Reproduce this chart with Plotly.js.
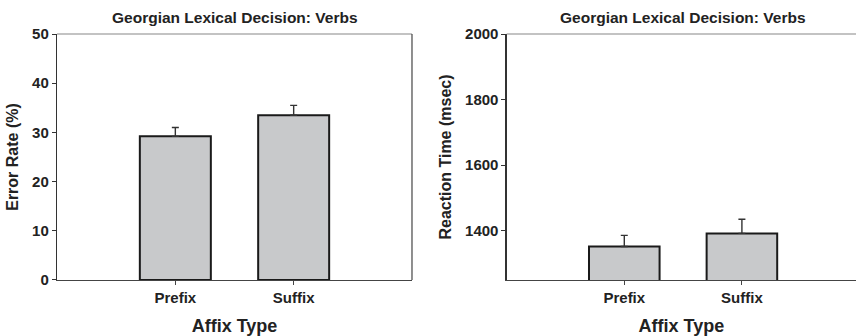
<!DOCTYPE html>
<html>
<head>
<meta charset="utf-8">
<script src="https://cdn.plot.ly/plotly-3.0.1.min.js"></script>
<style>
  html, body { margin: 0; padding: 0; background: #fff; overflow: hidden; }
  #chart { width: 856px; height: 336px; }
</style>
</head>
<body>
<div id="chart"></div>
<script>
// Georgian lexical decision (verbs): error rate and reaction time by affix type
const categories = ['Prefix', 'Suffix'];
const errorRate = [29.2, 33.5];       // %
const errorRateSE = [1.8, 2.0];
const reactionTime = [1352, 1392];    // msec
const reactionTimeSE = [34, 43];

const panelTitle = 'Georgian Lexical Decision: Verbs';
const xTitle = 'Affix Type';
const yTitleLeft = 'Error Rate (%)';
const yTitleRight = 'Reaction Time (msec)';
const errorTicks = [0, 10, 20, 30, 40, 50];
const rtTicks = [1400, 1600, 1800, 2000];

const FONT = 'Liberation Sans, Arial, Helvetica, sans-serif';
const INK = '#222';

function barTrace(y, se, xa, ya) {
  return {
    type: 'bar',
    x: categories,
    y: y,
    xaxis: xa,
    yaxis: ya,
    width: 0.6,
    marker: { color: '#c8c9cb', line: { color: '#1a1a1a', width: 2 } },
    error_y: {
      type: 'data', array: se, symmetric: false, arrayminus: [0, 0],
      color: '#333', thickness: 1.4, width: 3.5
    },
    hoverinfo: 'x+y',
    showlegend: false
  };
}

const tickFont = { family: FONT, size: 15, color: INK, weight: 'bold' };
const titleFont = { family: FONT, size: 18, color: INK, weight: 'bold' };
const yTitleFont = { family: FONT, size: 16, color: INK, weight: 'bold' };
const panelFont = { family: FONT, size: 15.5, color: INK, weight: 'bold' };

function xAxis(domain, range, anchor) {
  return {
    domain: domain, range: range, anchor: anchor,
    type: 'category', showline: true, linecolor: '#444', linewidth: 1.2,
    ticks: 'outside', ticklen: 4, tickcolor: '#444', tickwidth: 1,
    tickfont: tickFont, showgrid: false, zeroline: false, fixedrange: true,
    title: { text: xTitle, font: titleFont, standoff: 16 }
  };
}

function yAxis(range, tickvals, anchor, title) {
  return {
    domain: [0.1667, 0.8988], range: range, anchor: anchor,
    tickvals: tickvals, showline: true, linecolor: '#333', linewidth: 1.2,
    ticks: 'outside', ticklen: 4, tickcolor: '#333', tickwidth: 1,
    tickfont: tickFont, showgrid: false, zeroline: false, fixedrange: true,
    title: { text: title, font: yTitleFont, standoff: 9 }
  };
}

const data = [
  barTrace(errorRate, errorRateSE, 'x', 'y'),
  barTrace(reactionTime, reactionTimeSE, 'x2', 'y2')
];

const layout = {
  width: 856, height: 336,
  margin: { l: 0, r: 0, t: 0, b: 0 },
  paper_bgcolor: '#fff', plot_bgcolor: '#fff',
  font: { family: FONT, color: INK },
  xaxis: xAxis([0.0666, 0.4813], [-1, 2], 'y'),
  yaxis: yAxis([0, 50], errorTicks, 'x', yTitleLeft),
  xaxis2: xAxis([0.5919, 1], [-1, 1.97], 'y2'),
  yaxis2: yAxis([1250, 2000], rtTicks, 'x2', yTitleRight),
  shapes: [
    // frame top edges and the right edge of the first panel
    { type: 'line', xref: 'x domain', yref: 'y domain', x0: 0, x1: 1, y0: 1, y1: 1,
      line: { color: '#888', width: 1.2 } },
    { type: 'line', xref: 'x domain', yref: 'y domain', x0: 1, x1: 1, y0: 0, y1: 1,
      line: { color: '#444', width: 1.2 } },
    { type: 'line', xref: 'x2 domain', yref: 'y2 domain', x0: 0, x1: 1, y0: 1, y1: 1,
      line: { color: '#888', width: 1.2 } }
  ],
  annotations: [
    { text: panelTitle, xref: 'x domain', yref: 'paper', x: 0.5, y: 1 - 17 / 336,
      yanchor: 'middle', showarrow: false, font: panelFont },
    { text: panelTitle, xref: 'x2 domain', yref: 'paper', x: (683 - 506.7) / (856 - 506.7),
      y: 1 - 17 / 336, yanchor: 'middle', showarrow: false, font: panelFont }
  ]
};

Plotly.newPlot('chart', data, layout, { displayModeBar: false, staticPlot: true });
</script>
</body>
</html>
